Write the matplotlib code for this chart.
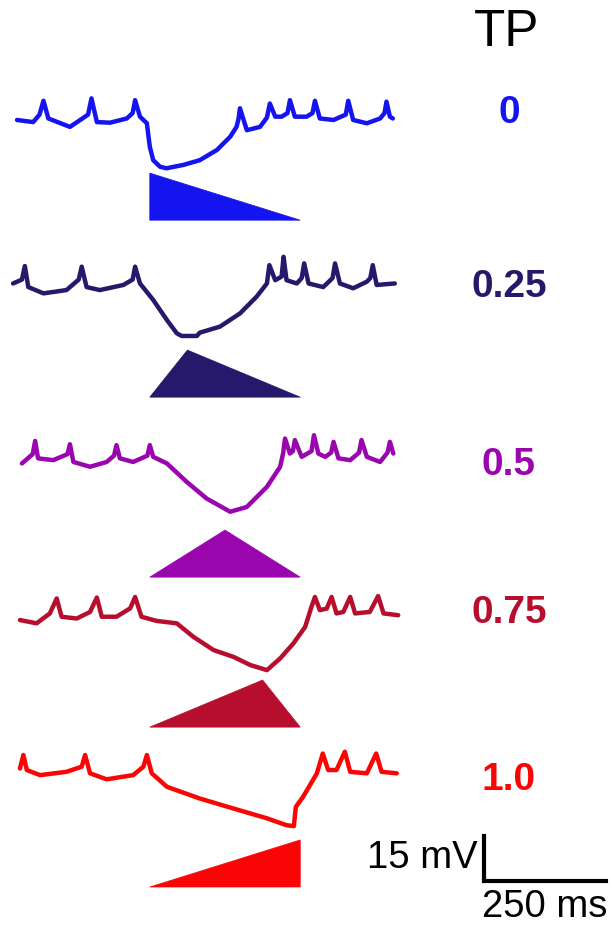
import matplotlib
matplotlib.use('Agg')
import matplotlib.pyplot as plt
import numpy as np

plt.rcParams['font.family'] = ['Liberation Sans', 'DejaVu Sans']

# timing parameter of each ramp and the colour used for it
tp_values = [0, 0.25, 0.5, 0.75, 1.0]
tp_labels = ['0', '0.25', '0.5', '0.75', '1.0']
colors = ['#1414f0', '#26196b', '#9a06ad', '#b80e2e', '#fa0505']

# stimulus window (ms) and ramp height in plot units
stim_start = 271
stim_end = 578
ramp_height = 15.7

# membrane traces, (time ms, mV relative to rest)
trace_tp0 = [(0, 0.7), (33, 0), (46, 2.5), (54, 7.1), (64, 1.2), (108, -1.6), (129, 0.7),
             (145, 2.5), (152, 7.9), (163, 0), (190, -0.2), (224, 1.2), (236, 3), (241, 7.3),
             (251, 1.8), (265, -0.4), (271, -8.2), (278, -12.7), (292, -14.9), (305, -15.4),
             (339, -14.3), (373, -12.7), (408, -9.3), (435, -4.9), (448, -1.6), (452, 1),
             (455, 4.6), (469, -2.7), (496, -1.6), (510, 1.5), (516, 6.2), (527, 1.8),
             (540, 1.8), (552, 3), (557, 7.3), (567, 1.8), (591, 1.8), (603, 3), (608, 7.1),
             (618, 1.2), (646, 0.7), (671, 2.5), (676, 7.1), (686, 0.7), (714, -0.4),
             (741, 1.2), (750, 3), (754, 6.8), (761, 1.8), (767, 1.2)]
trace_tp025 = [(-8, 1.2), (10, 2.5), (16, 7), (23, 0), (54, -2.1), (101, -1), (126, 2.5),
               (132, 6.8), (142, 0), (169, -1), (217, 0.7), (236, 2.5), (241, 6.8), (251, 1.2),
               (278, -4.3), (306, -11), (326, -15.4), (336, -16.3), (367, -16.3), (373, -15.2),
               (414, -13.2), (455, -8.8), (489, -3.2), (510, 1.2), (515, 7.3), (527, 2.3),
               (540, 3.5), (544, 10.1), (550, 2.3), (571, 1.2), (581, 3), (586, 7.9), (595, 1.2),
               (625, 0), (644, 3), (649, 7.9), (659, 1.2), (686, -0.4), (714, 1.8), (721, 3),
               (726, 7.3), (734, 0.7), (771, 1.2)]
trace_tp05 = [(10, -1.1), (32, 2), (37, 6.4), (43, 0.6), (74, 0), (103, 2), (108, 5.3),
              (115, -0.6), (149, -2.2), (183, -0.6), (198, 1.5), (203, 5), (210, 0.6),
              (237, -0.6), (266, 1.5), (271, 5), (278, 1.1), (306, -1.1), (346, -7.2),
              (387, -12.8), (435, -17.2), (469, -15.6), (510, -8.9), (537, -2.2), (543, 2.2),
              (547, 7.2), (557, 2.2), (563, 3), (567, 6.7), (581, 1.1), (601, 3), (606, 8.3),
              (615, 2.2), (629, 1.1), (641, 2.5), (646, 6.1), (656, 0.6), (680, 0), (698, 2.5),
              (703, 6.7), (714, 1.1), (741, -0.6), (756, 2.5), (761, 6.1), (768, 2.2)]
trace_tp075 = [(6, 0.7), (40, -0.4), (67, 2.9), (81, 7.9), (91, 1.8), (122, 1.2), (149, 3.4),
               (163, 8.2), (173, 1.8), (203, 1.8), (231, 4.6), (241, 8.4), (254, 1.8),
               (285, 0.4), (326, -0.4), (360, -4.9), (401, -9.3), (442, -11.6), (476, -14.3),
               (510, -16), (537, -12.1), (564, -7.1), (588, -1.6), (601, 5.1), (608, 8.4),
               (618, 4), (632, 4.5), (642, 8.4), (652, 2.9), (666, 3.4), (680, 8.4), (690, 2.9),
               (720, 3.4), (737, 8.7), (748, 2.9), (778, 2.3)]
trace_tp1 = [(6, 2.2), (13, 6.7), (20, 1.7), (47, 0), (101, 1.1), (132, 2.8), (139, 6.7),
             (149, 0.6), (183, -1.4), (237, 0), (258, 2.8), (265, 6.7), (275, 0.6), (306, -3.9),
             (373, -7.8), (441, -11.1), (510, -14.4), (550, -16.7), (565, -17), (569, -10.6),
             (584, -7.2), (612, 0.6), (624, 7.2), (635, 1.7), (652, 1.7), (669, 7.8), (680, 1.1),
             (714, 0.6), (733, 7.2), (744, 1.1), (775, 0.6)]
traces = [trace_tp0, trace_tp025, trace_tp05, trace_tp075, trace_tp1]

# layout: vertical position of each row (rest level, ramp base, label)
rest_levels = [268, 213, 155.3, 101.3, 50.3]
ramp_offsets = [-32.7, -36.7, -39, -35, -37.3]
label_levels = [271, 213, 153.7, 104.3, 48.7]

fig = plt.figure(figsize=(6.13, 9.26), dpi=100)
ax = fig.add_axes([0, 0, 1, 1])
ax.set_xlim(-34.7, 1216.3)
ax.set_ylim(0, 308.7)
ax.axis('off')

for i in range(5):
    tr = np.array(traces[i])
    ax.plot(tr[:, 0], tr[:, 1] + rest_levels[i], color=colors[i], linewidth=3.2,
            solid_joinstyle='round', solid_capstyle='round')

    base = rest_levels[i] + ramp_offsets[i]
    apex = stim_start + tp_values[i] * (stim_end - stim_start)
    ax.fill([stim_start, apex, stim_end], [base, base + ramp_height, base],
            color=colors[i], linewidth=0.5, edgecolor=colors[i])

    ax.text(1004, label_levels[i], tp_labels[i], color=colors[i], fontsize=28,
            fontweight='bold', ha='center', va='center')

ax.text(1000, 298, 'TP', fontsize=37, ha='center', va='center')

# scale bar: 250 ms x 15 mV
bar_x = 953
bar_y = 15
ax.plot([bar_x, bar_x, bar_x + 250], [bar_y + 15, bar_y, bar_y], color='black',
        linewidth=3, solid_joinstyle='miter')
ax.text(bar_x - 12, 22.7, '15 mV', fontsize=27.5, ha='right', va='center')
ax.text(bar_x + 123, 6.3, '250 ms', fontsize=27.5, ha='center', va='center')

fig.savefig('out.png', dpi=100)
